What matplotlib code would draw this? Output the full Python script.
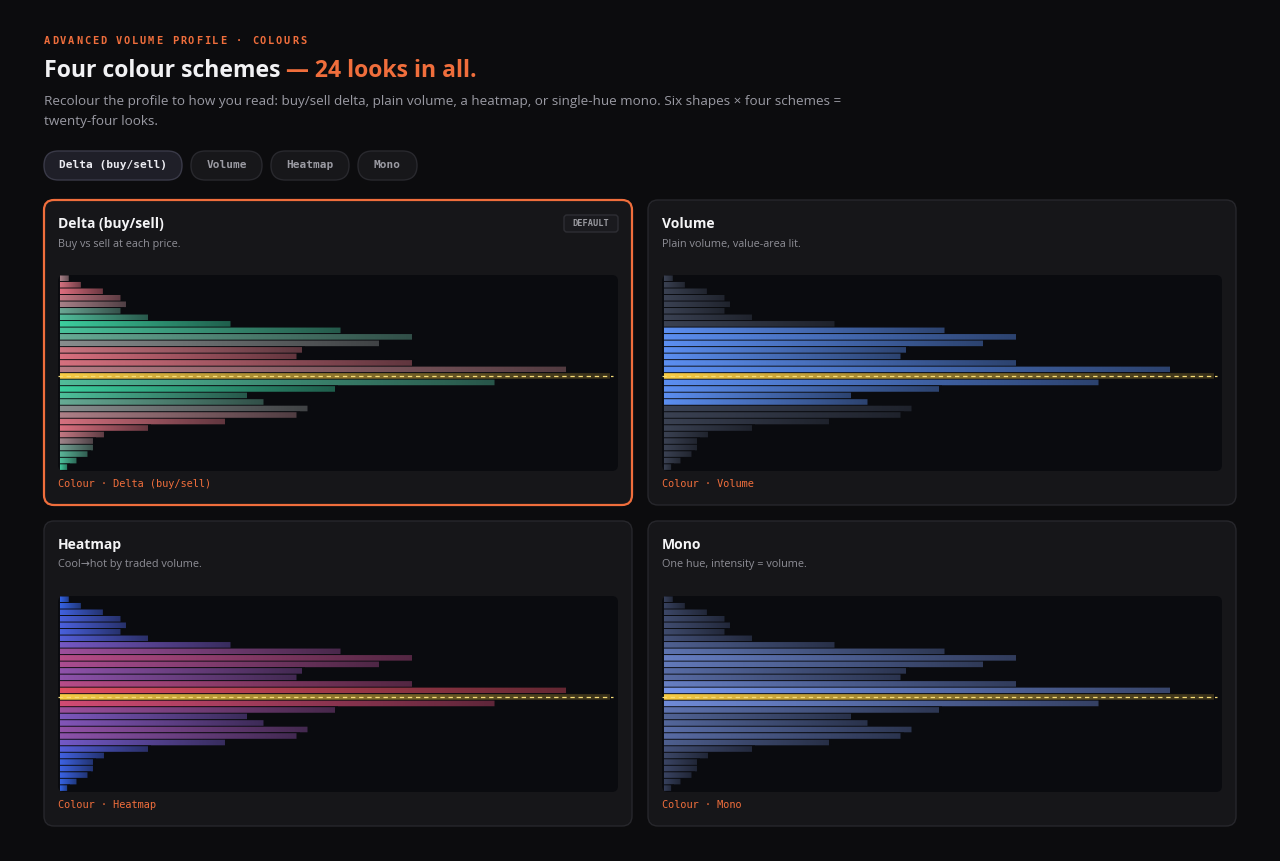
import numpy as np
import matplotlib
matplotlib.use("Agg")
import matplotlib.pyplot as plt
from matplotlib.patches import FancyBboxPatch
from matplotlib.colors import to_rgb, LinearSegmentedColormap
from matplotlib import font_manager

# traded volume per price row, top to bottom (% of POC)
volume = [1.6, 3.8, 7.8, 11, 12, 11, 16, 31, 51, 64, 58, 44, 43, 64, 92,
          100, 79, 50, 34, 37, 45, 43, 30, 16, 8, 6, 6, 5, 3, 1.3]
# buy minus sell share per row (-1 all sell, +1 all buy)
delta = [-0.3, -0.8, -0.9, -0.6, -0.3, 0.4, 0.7, 0.95, 0.8, 0.45,
         0.05, -0.7, -0.85, -0.8, -0.45, 0.2, 0.7, 0.95, 0.75, 0.45,
         0.05, -0.35, -0.8, -0.85, -0.6, -0.2, 0.3, 0.6, 0.75, 0.9]
va_rows = list(range(8, 20))  # value area
scheme_names = ["Delta (buy/sell)", "Volume", "Heatmap", "Mono"]
scheme_notes = ["Buy vs sell at each price.", "Plain volume, value-area lit.",
                "Cool\u2192hot by traded volume.", "One hue, intensity = volume."]

BG = "#0c0c0e"
CARD = "#161619"
CARD_EDGE = "#27272c"
PLOT_BG = "#0a0b0f"
ORANGE = "#f06e3c"
YELLOW = "#f7cb45"
MONO = ["DejaVu Sans Mono"]

# pick a sans family that actually has a bold face
have_bold = {f.name for f in font_manager.fontManager.ttflist
             if f.weight in (600, 700, "bold", "semibold")}
head = next((f for f in ["Open Sans", "Lato", "Roboto", "Noto Sans", "Inter"]
             if f in have_bold), "DejaVu Sans")
SANS = ["Open Sans", "DejaVu Sans"]
BOLD = [head, "DejaVu Sans"]

W, H = 1280, 861
fig = plt.figure(figsize=(W / 100, H / 100), dpi=100, facecolor=BG)
bg = fig.add_axes([0, 0, 1, 1])
bg.set_xlim(0, W)
bg.set_ylim(H, 0)
bg.axis("off")
bg.set_facecolor(BG)


def rbox(x0, y0, x1, y1, r, fc, ec, lw=1.0, z=1):
    p = FancyBboxPatch((x0, y0), x1 - x0, y1 - y0,
                       boxstyle=f"round,pad=0,rounding_size={r}",
                       fc=fc, ec=ec, lw=lw, zorder=z)
    bg.add_patch(p)
    return p


# header
eyebrow = "ADVANCED VOLUME PROFILE \u00b7 COLOURS"
for i, ch in enumerate(eyebrow):
    bg.text(44 + i * 8.0, 41, ch, color=ORANGE, fontsize=7.5,
            fontweight="bold", family=MONO, va="center", ha="left")

t1 = bg.text(44, 71, "Four colour schemes", color="#f2f2f4", fontsize=16.6,
             fontweight="bold", family=BOLD, va="center", ha="left")
bg.annotate(" \u2014 24 looks in all.", xy=(1, 0), xycoords=t1, va="bottom",
            ha="left", color=ORANGE, fontsize=16.6, fontweight="bold",
            family=BOLD)
bg.text(44, 102, "Recolour the profile to how you read: buy/sell delta, plain "
        "volume, a heatmap, or single-hue mono. Six shapes \u00d7 four schemes =",
        color="#9a9aa3", fontsize=9.7, family=SANS, va="center")
bg.text(44, 122, "twenty-four looks.", color="#9a9aa3", fontsize=9.7,
        family=SANS, va="center")

pill_x = [(44, 182), (191, 262), (271, 349), (358, 417)]
for i, (name, (a, b)) in enumerate(zip(scheme_names, pill_x)):
    active = i == 0
    rbox(a, 151, b, 180, 14.5, "#1f1f28" if active else "#17171a",
         "#3a3a48" if active else "#29292e")
    bg.text((a + b) / 2, 165.5, name, color="#ececf2" if active else "#9a9aa2",
            fontsize=8.0, fontweight="bold", family=MONO, ha="center",
            va="center")

heat = LinearSegmentedColormap.from_list(
    "heat", ["#2f64e6", "#6a5bd0", "#9a4f9c", "#cc4a78", "#e8505a"])
red, grey, green = map(np.array, (to_rgb("#e66a7b"), to_rgb("#8c8a8c"),
                                  to_rgb("#38d09e")))
va_blue, dim = np.array(to_rgb("#5b8ef0")), np.array(to_rgb("#3a4152"))
mono_lo, mono_hi = np.array(to_rgb("#323a52")), np.array(to_rgb("#7c9bf2"))


def bar_colour(scheme, i):
    v = volume[i] / max(volume)
    if scheme == 0:
        d = delta[i]
        return grey + (green - grey) * d if d >= 0 else grey + (red - grey) * (-d)
    if scheme == 1:
        return va_blue if i in va_rows else dim
    if scheme == 2:
        return np.array(heat(v)[:3])
    return mono_lo + (mono_hi - mono_lo) * v ** 0.8


cards = [(44, 200), (648, 200), (44, 521), (648, 521)]
n = len(volume)
poc = int(np.argmax(volume))
K = 128
shade = np.zeros((1, K, 4))
shade[..., :3] = to_rgb(PLOT_BG)
shade_poc = shade.copy()
shade[..., 3] = 1 - np.linspace(1.0, 0.38, K) ** 0.9
shade_poc[..., 3] = 1 - np.linspace(1.0, 0.3, K) ** 1.4
for s, (cx, cy) in enumerate(cards):
    rbox(cx, cy, cx + 588, cy + 305, 10, CARD,
         ORANGE if s == 0 else CARD_EDGE, lw=1.6 if s == 0 else 1.0)
    bg.text(cx + 14, cy + 24, scheme_names[s], color="#f4f4f6", fontsize=10,
            fontweight="bold", family=BOLD, va="center")
    bg.text(cx + 14, cy + 44, scheme_notes[s], color="#8e8e96", fontsize=7.8,
            family=SANS, va="center")
    bg.text(cx + 14, cy + 284, "Colour \u00b7 " + scheme_names[s], color=ORANGE,
            fontsize=7.4, family=MONO, va="center")
    if s == 0:
        rbox(cx + 520, cy + 15, cx + 574, cy + 32, 3, "#1a1a1e", "#2e2e34")
        bg.text(cx + 547, cy + 23.5, "DEFAULT", color="#9a9aa0", fontsize=6.2,
                fontweight="bold", family=MONO, ha="center", va="center")

    # plot well
    px0, py0, px1, py1 = cx + 14, cy + 75, cx + 574, cy + 271
    rbox(px0, py0, px1, py1, 6, PLOT_BG, "none", z=2)
    ax = fig.add_axes([px0 / W, 1 - py1 / H, (px1 - px0) / W, (py1 - py0) / H])
    ax.axis("off")
    ax.patch.set_alpha(0)
    cols = [to_rgb(YELLOW) if i == poc else bar_colour(s, i) for i in range(n)]
    bars = ax.barh(np.arange(n), volume, height=0.86, color=cols, lw=0,
                   snap=False, zorder=2)
    # fade each bar towards the well colour along its own length
    for i, p in enumerate(bars.patches):
        w = p.get_width()
        ax.imshow(shade_poc if i == poc else shade,
                  extent=(0, w + 0.5, i + 0.5, i - 0.5), aspect="auto",
                  interpolation="bilinear", zorder=2.5)
    top = max(volume)
    ax.plot([-0.36, top * 1.006], [poc, poc], color="#f6dc78", lw=0.9,
            dashes=(3.5, 3), zorder=3)
    ax.set_xlim(-0.36, 101.45)
    ax.set_ylim(n - 0.4, -0.5)

fig.savefig("out.png", dpi=100, facecolor=BG)
